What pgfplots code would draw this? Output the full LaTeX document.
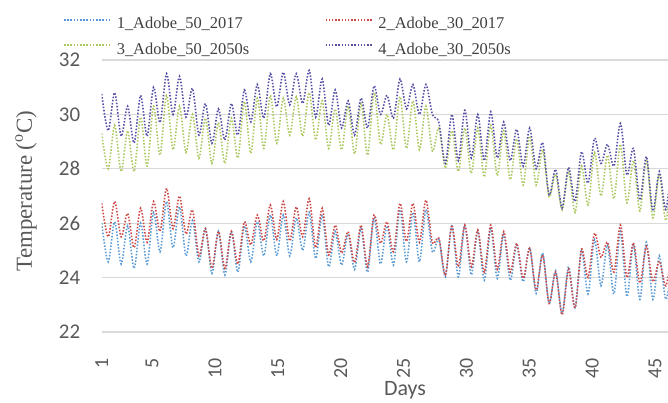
\documentclass[border=0pt]{standalone}
\usepackage{fontspec}
\setmainfont{Liberation Serif}
\newfontfamily\calibri{Carlito}
\usepackage{pgfplots}
\usepackage{pgfplotstable}
\pgfplotsset{compat=1.18}
\definecolor{cA}{RGB}{91,155,213}
\definecolor{cB}{RGB}{205,70,70}
\definecolor{cC}{RGB}{170,200,95}
\definecolor{cD}{RGB}{85,80,165}
\definecolor{gridc}{RGB}{217,217,217}
\definecolor{txt}{RGB}{89,89,89}
\definecolor{legtxt}{RGB}{64,64,64}

\pgfplotstableread{
x y1 y2 y3 y4
1.000 26.00 26.73 29.30 30.75
1.516 24.58 25.50 28.00 29.40
2.031 26.05 26.80 29.60 30.80
2.547 24.50 25.50 27.90 29.20
3.062 25.90 26.36 29.40 30.30
3.578 24.34 25.10 27.90 28.95
4.094 26.00 26.55 29.90 30.70
4.609 24.50 25.30 28.10 29.20
5.125 26.40 26.80 30.30 31.00
5.640 24.95 25.70 28.50 29.70
6.156 26.80 27.28 30.70 31.50
6.672 25.10 25.80 28.70 30.00
7.187 26.60 27.00 30.30 31.40
7.703 24.80 25.60 28.60 29.90
8.218 26.10 26.49 30.00 30.96
8.734 24.58 24.80 28.39 29.24
9.250 25.80 25.80 29.86 30.40
9.765 24.16 24.34 28.20 28.94
10.281 25.70 25.70 29.70 30.20
10.796 24.10 24.34 28.20 29.06
11.312 25.70 25.70 29.86 30.40
11.828 24.20 24.50 28.40 29.24
12.343 25.90 26.05 30.47 30.90
12.859 24.58 25.20 28.57 29.73
13.374 26.05 26.30 30.60 31.10
13.890 24.80 25.35 28.75 29.86
14.406 26.30 26.67 30.70 31.50
14.921 24.80 25.40 28.94 30.28
15.437 26.30 26.80 30.60 31.55
15.952 24.80 25.35 29.24 30.35
16.468 26.20 26.60 30.65 31.50
16.984 25.00 25.50 29.20 30.40
17.499 26.40 26.90 30.80 31.62
18.015 24.70 25.10 29.06 29.90
18.530 26.30 26.55 30.50 31.30
19.046 24.40 24.83 28.75 29.60
19.562 25.70 25.93 30.20 30.90
20.077 24.46 24.90 28.70 29.50
20.593 25.60 25.69 30.30 30.50
21.108 24.30 24.55 28.55 29.24
21.624 25.80 25.93 30.40 30.60
22.140 24.20 24.40 28.50 29.50
22.655 26.20 26.30 30.80 31.05
23.171 24.50 25.26 28.90 30.00
23.686 25.90 26.05 30.00 30.70
24.202 24.46 24.95 28.70 29.86
24.718 26.50 26.73 30.65 31.30
25.233 24.58 25.33 28.75 30.20
25.749 26.40 26.73 30.50 31.10
26.264 24.58 25.30 28.70 30.00
26.780 26.50 26.85 30.30 31.10
27.296 24.95 25.28 28.65 30.00
27.811 25.40 25.45 29.50 29.70
28.327 24.03 24.10 28.02 28.20
28.842 25.90 25.93 29.40 30.00
29.358 24.03 24.40 27.90 28.30
29.874 25.90 25.93 29.50 30.15
30.389 24.10 24.40 27.83 28.40
30.905 25.70 25.75 29.50 30.00
31.420 23.90 24.20 27.70 28.30
31.936 25.80 25.93 29.60 30.10
32.452 23.97 24.30 27.75 28.40
32.967 25.60 25.69 29.40 29.72
33.483 23.90 24.20 27.60 28.30
33.998 25.20 25.26 29.10 29.45
34.514 23.85 23.97 27.40 28.10
35.030 25.10 25.08 29.20 29.50
35.545 23.42 23.54 27.40 28.00
36.061 24.90 24.83 28.70 28.96
36.576 23.05 23.05 26.97 27.04
37.092 24.25 24.20 27.80 27.98
37.608 22.69 22.63 26.49 26.56
38.123 24.40 24.30 27.90 28.05
38.639 22.90 22.88 26.40 26.80
39.154 25.00 25.05 28.10 28.63
39.670 23.40 24.00 26.67 27.47
40.186 25.40 25.63 28.60 29.12
40.701 23.70 24.75 27.00 28.20
41.217 25.20 25.30 28.50 28.90
41.732 23.40 24.20 26.90 28.10
42.248 25.70 25.93 28.90 29.67
42.764 23.30 24.00 26.75 27.77
43.279 25.20 25.28 28.30 28.75
43.795 23.20 23.80 26.45 26.85
44.310 25.30 25.15 28.35 28.45
44.826 23.20 23.85 26.20 26.45
45.342 24.80 24.60 27.80 27.90
45.857 23.20 23.70 26.10 26.50
46.373 24.50 25.00 28.00 28.50
}\data

\begin{document}
\begin{tikzpicture}
\begin{axis}[
  at={(101.7bp,71bp)}, anchor=south west,
  scale only axis, width=566.3bp, height=272bp,
  xmin=1, xmax=46.03, ymin=22, ymax=32,
  xtick={1,5,10,15,20,25,30,35,40,45},
  ytick={22,24,...,32},
  ymajorgrids, grid style={gridc, line width=1.2bp},
  axis line style={draw=none},
  major tick length=0pt,
  tick label style={font=\calibri\fontsize{21}{21}\selectfont, text=txt},
  xticklabel style={rotate=90, anchor=east, font=\calibri\fontsize{20}{20}\selectfont},
  xticklabel shift=23bp,
  yticklabel shift=18bp,
  /pgf/number format/assume math mode=true,
  xlabel={Days},
  xlabel style={font=\calibri\fontsize{22}{22}\selectfont, text=txt, at={(axis description cs:0.5356,-0.215)}, anchor=center},
  ylabel={Temperature (\textsuperscript{o}C)},
  ylabel style={font=\rmfamily\fontsize{23}{23}\selectfont, text=txt, at={(axis description cs:-0.1337,0.518)}, anchor=center},
  legend columns=2,
  legend style={draw=none, fill=none, at={(axis description cs:-0.0736,1.203)}, anchor=north west,
    font=\rmfamily\fontsize{16.5}{20}\selectfont, row sep=0bp,
    /tikz/every odd column/.append style={column sep=3bp}},
  legend cell align=left,
  legend image code/.code={\draw[#1, line width=1.6bp] (0bp,0bp) -- (47bp,0bp);},
  every axis plot/.append style={line width=1.6bp, line cap=butt, dash pattern=on 1.5bp off 1.7bp, smooth, tension=0.5},
]
\addplot[cA] table[x=x,y=y1]{\data};
\addlegendentry{\makebox[206bp][l]{\rule[-8bp]{0pt}{28bp}\textcolor{legtxt}{1\_Adobe\_50\_2017}}}
\addplot[cB] table[x=x,y=y2]{\data};
\addlegendentry{\rule[-8bp]{0pt}{28bp}\textcolor{legtxt}{2\_Adobe\_30\_2017}}
\addplot[cC] table[x=x,y=y3]{\data};
\addlegendentry{\makebox[206bp][l]{\rule[-8bp]{0pt}{28bp}\textcolor{legtxt}{3\_Adobe\_50\_2050s}}}
\addplot[cD] table[x=x,y=y4]{\data};
\addlegendentry{\rule[-8bp]{0pt}{28bp}\textcolor{legtxt}{4\_Adobe\_30\_2050s}}
\end{axis}
\pgfresetboundingbox
\path (0,0) rectangle (668bp,403bp);
\end{tikzpicture}
\end{document}
